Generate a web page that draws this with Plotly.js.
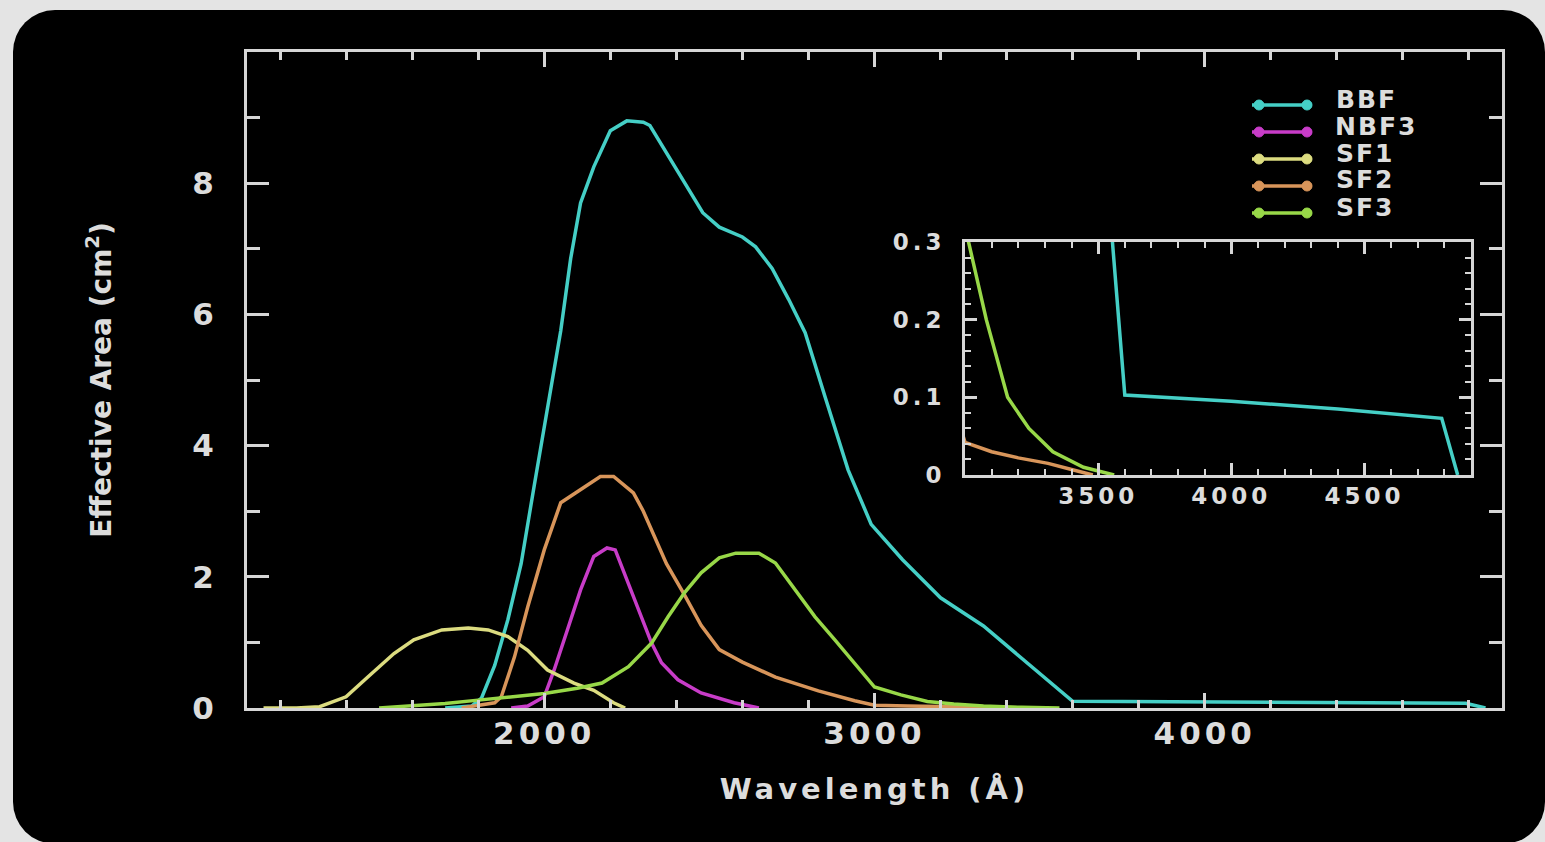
<!DOCTYPE html>
<html><head><meta charset="utf-8">
<script src="https://cdn.plot.ly/plotly-3.0.1.min.js"></script>
<style>
html,body{margin:0;padding:0;background:#e4e4e4;width:1545px;height:842px;overflow:hidden;}
#bg{position:absolute;left:13px;top:10px;width:1532px;height:834px;background:#000;border-radius:42px;}
#chart{position:absolute;left:0;top:0;width:1545px;height:842px;}
#chart .xtick text,#chart .ytick text{letter-spacing:4px;}
#chart .x2tick text,#chart .y2tick text{letter-spacing:4px;}
#chart .g-xtitle text{letter-spacing:4px;}
#chart .annotation-text-g text{letter-spacing:2px;}
</style></head>
<body><div id="bg"></div><div id="chart"></div>
<script>
// ---- data (wavelength in Å, effective area in cm^2) ----
const seriesNames = ['BBF','NBF3','SF1','SF2','SF3'];
const seriesColors = ['#45cfc6','#c83cc8','#dcdc80','#d8955a','#98d848'];

const bbfWave = [1700,1780,1810,1850,1890,1930,1970,2000,2050,2080,2110,2150,2200,2250,2300,2320,2360,2420,2480,2530,2600,2640,2690,2740,2790,2850,2920,2990,3085,3200,3330,3600,4000,4400,4790,4850];
const bbfArea = [0,0.03,0.15,0.65,1.35,2.2,3.4,4.3,5.75,6.85,7.7,8.25,8.8,8.95,8.93,8.88,8.55,8.05,7.55,7.33,7.18,7.03,6.7,6.23,5.72,4.75,3.63,2.8,2.26,1.68,1.25,0.103,0.095,0.085,0.073,0.0];

const nbf3Wave = [1900,1950,2000,2030,2070,2110,2150,2190,2215,2255,2295,2325,2355,2405,2475,2575,2650];
const nbf3Area = [0,0.03,0.17,0.58,1.19,1.8,2.31,2.44,2.41,1.9,1.39,0.99,0.69,0.43,0.23,0.08,0.0];

const sf1Wave = [1150,1250,1320,1400,1465,1545,1605,1690,1770,1830,1890,1950,2010,2090,2150,2210,2245];
const sf1Area = [0,0,0.02,0.17,0.47,0.83,1.04,1.19,1.22,1.19,1.09,0.88,0.58,0.38,0.27,0.08,0];

const sf2Wave = [1750,1850,1870,1910,1950,2000,2050,2110,2170,2210,2270,2300,2370,2425,2475,2530,2600,2700,2830,2940,3000,3100,3200,3312,3400,3480];
const sf2Area = [0,0.08,0.17,0.78,1.54,2.41,3.13,3.33,3.53,3.53,3.28,3.0,2.2,1.72,1.26,0.89,0.7,0.47,0.26,0.11,0.042,0.03,0.022,0.015,0.007,0];

const sf3Wave = [1500,1600,1700,1800,1900,2000,2100,2175,2255,2325,2375,2425,2475,2530,2580,2650,2700,2760,2820,2880,2940,3000,3080,3160,3240,3330,3445,3560];
const sf3Area = [0,0.03,0.07,0.12,0.17,0.22,0.3,0.38,0.63,0.99,1.39,1.76,2.06,2.29,2.36,2.36,2.21,1.8,1.39,1.04,0.69,0.32,0.2,0.1,0.06,0.03,0.01,0];

const seriesWave = [bbfWave,nbf3Wave,sf1Wave,sf2Wave,sf3Wave];
const seriesArea = [bbfArea,nbf3Area,sf1Area,sf2Area,sf3Area];

const mainTickVals = [2000,3000,4000];
const mainYTickVals = [0,2,4,6,8];
const insetXTickVals = [3500,4000,4500];
const insetYTickVals = [0,0.1,0.2,0.3];

// ---- layout geometry ----
const W = 1545, H = 842;
const plotL = 247, plotR = 1502, plotT = 52, plotB = 708;
const pxX = px => (px - plotL) / (plotR - plotL);
const pxY = py => (plotB - py) / (plotB - plotT);

const axisCol = '#d6d6d6';
const txtCol = '#dcdcdc';
const fam = 'DejaVu Sans, sans-serif';

const traces = [];
seriesNames.forEach((n, i) => {
  traces.push({x: seriesWave[i], y: seriesArea[i], type: 'scatter', mode: 'lines', name: n,
    line: {color: seriesColors[i], width: 3.5}, xaxis: 'x', yaxis: 'y', showlegend: false, hoverinfo: 'skip'});
});
seriesNames.forEach((n, i) => {
  traces.push({x: seriesWave[i], y: seriesArea[i], type: 'scatter', mode: 'lines', name: n,
    line: {color: seriesColors[i], width: 3.5}, xaxis: 'x2', yaxis: 'y2', showlegend: false, hoverinfo: 'skip'});
});

// legend (drawn manually in IDL style)
const shapes = [], annotations = [];
const legX0 = 1252, legX1 = 1312, legTop = 105, legStep = 27, legTextX = 1337;
seriesNames.forEach((n, i) => {
  const py = legTop + i * legStep;
  shapes.push({type: 'line', xref: 'paper', yref: 'paper', x0: pxX(legX0), x1: pxX(legX1), y0: pxY(py), y1: pxY(py),
    line: {color: seriesColors[i], width: 3.5}});
  [legX0 + 7, legX1 - 5].forEach(cx => {
    shapes.push({type: 'circle', xref: 'paper', yref: 'paper', xsizemode: 'pixel', ysizemode: 'pixel',
      xanchor: pxX(cx), yanchor: pxY(py), x0: -5, x1: 5, y0: -5, y1: 5,
      fillcolor: seriesColors[i], line: {color: seriesColors[i], width: 1}});
  });
  annotations.push({xref: 'paper', yref: 'paper', x: pxX(legTextX), y: pxY(py - 6), xanchor: 'left', yanchor: 'middle',
    text: n, showarrow: false, font: {family: fam, size: 25, weight: 'bold', color: txtCol}});
});

const baseAxis = {
  showline: true, linecolor: axisCol, linewidth: 3, mirror: 'ticks', ticks: 'inside',
  tickcolor: axisCol, tickwidth: 3, showgrid: false, zeroline: false, fixedrange: true
};

const layout = {
  width: W, height: H,
  paper_bgcolor: 'rgba(0,0,0,0)', plot_bgcolor: 'rgba(0,0,0,0)',
  margin: {l: plotL, r: W - plotR, t: plotT, b: H - plotB, pad: 0},
  showlegend: false,
  xaxis: Object.assign({}, baseAxis, {
    domain: [0, 1], anchor: 'y', range: [1100, 4900],
    tickmode: 'array', tickvals: mainTickVals, ticklen: 15,
    minor: {tickmode: 'linear', tick0: 0, dtick: 200, ticklen: 8, tickwidth: 3, tickcolor: axisCol, ticks: 'inside'},
    tickfont: {family: fam, size: 31, weight: 'bold', color: txtCol}, ticklabelstandoff: -4,
    title: {text: 'Wavelength (Å)', font: {family: fam, size: 29, weight: 'bold', color: txtCol}, standoff: 29}
  }),
  yaxis: Object.assign({}, baseAxis, {
    domain: [0, 1], anchor: 'x', range: [0, 10],
    tickmode: 'array', tickvals: mainYTickVals, ticklen: 22,
    minor: {tickmode: 'linear', tick0: 0, dtick: 1, ticklen: 13, tickwidth: 3, tickcolor: axisCol, ticks: 'inside'},
    tickfont: {family: fam, size: 31, weight: 'bold', color: txtCol}, ticklabelstandoff: 20,
    title: {text: 'Effective Area (cm<sup>2</sup>)', font: {family: fam, size: 28, weight: 'bold', color: txtCol}, standoff: 77}
  }),
  xaxis2: Object.assign({}, baseAxis, {
    domain: [pxX(965), pxX(1471)], anchor: 'y2', range: [3000, 4900],
    tickmode: 'array', tickvals: insetXTickVals, ticklen: 12,
    minor: {tickmode: 'linear', tick0: 3000, dtick: 100, ticklen: 6, tickwidth: 2, tickcolor: axisCol, ticks: 'inside'},
    tickfont: {family: fam, size: 23, weight: 'bold', color: txtCol}, ticklabelstandoff: -2, linewidth: 3
  }),
  yaxis2: Object.assign({}, baseAxis, {
    domain: [pxY(475), pxY(242)], anchor: 'x2', range: [0, 0.3],
    tickmode: 'array', tickvals: insetYTickVals, ticklen: 12,
    minor: {tickmode: 'linear', tick0: 0, dtick: 0.02, ticklen: 6, tickwidth: 2, tickcolor: axisCol, ticks: 'inside'},
    tickfont: {family: fam, size: 23, weight: 'bold', color: txtCol}, ticklabelstandoff: 12
  }),
  shapes: shapes,
  annotations: annotations
};

Plotly.newPlot('chart', traces, layout, {displayModeBar: false, staticPlot: true});
</script>
</body></html>
